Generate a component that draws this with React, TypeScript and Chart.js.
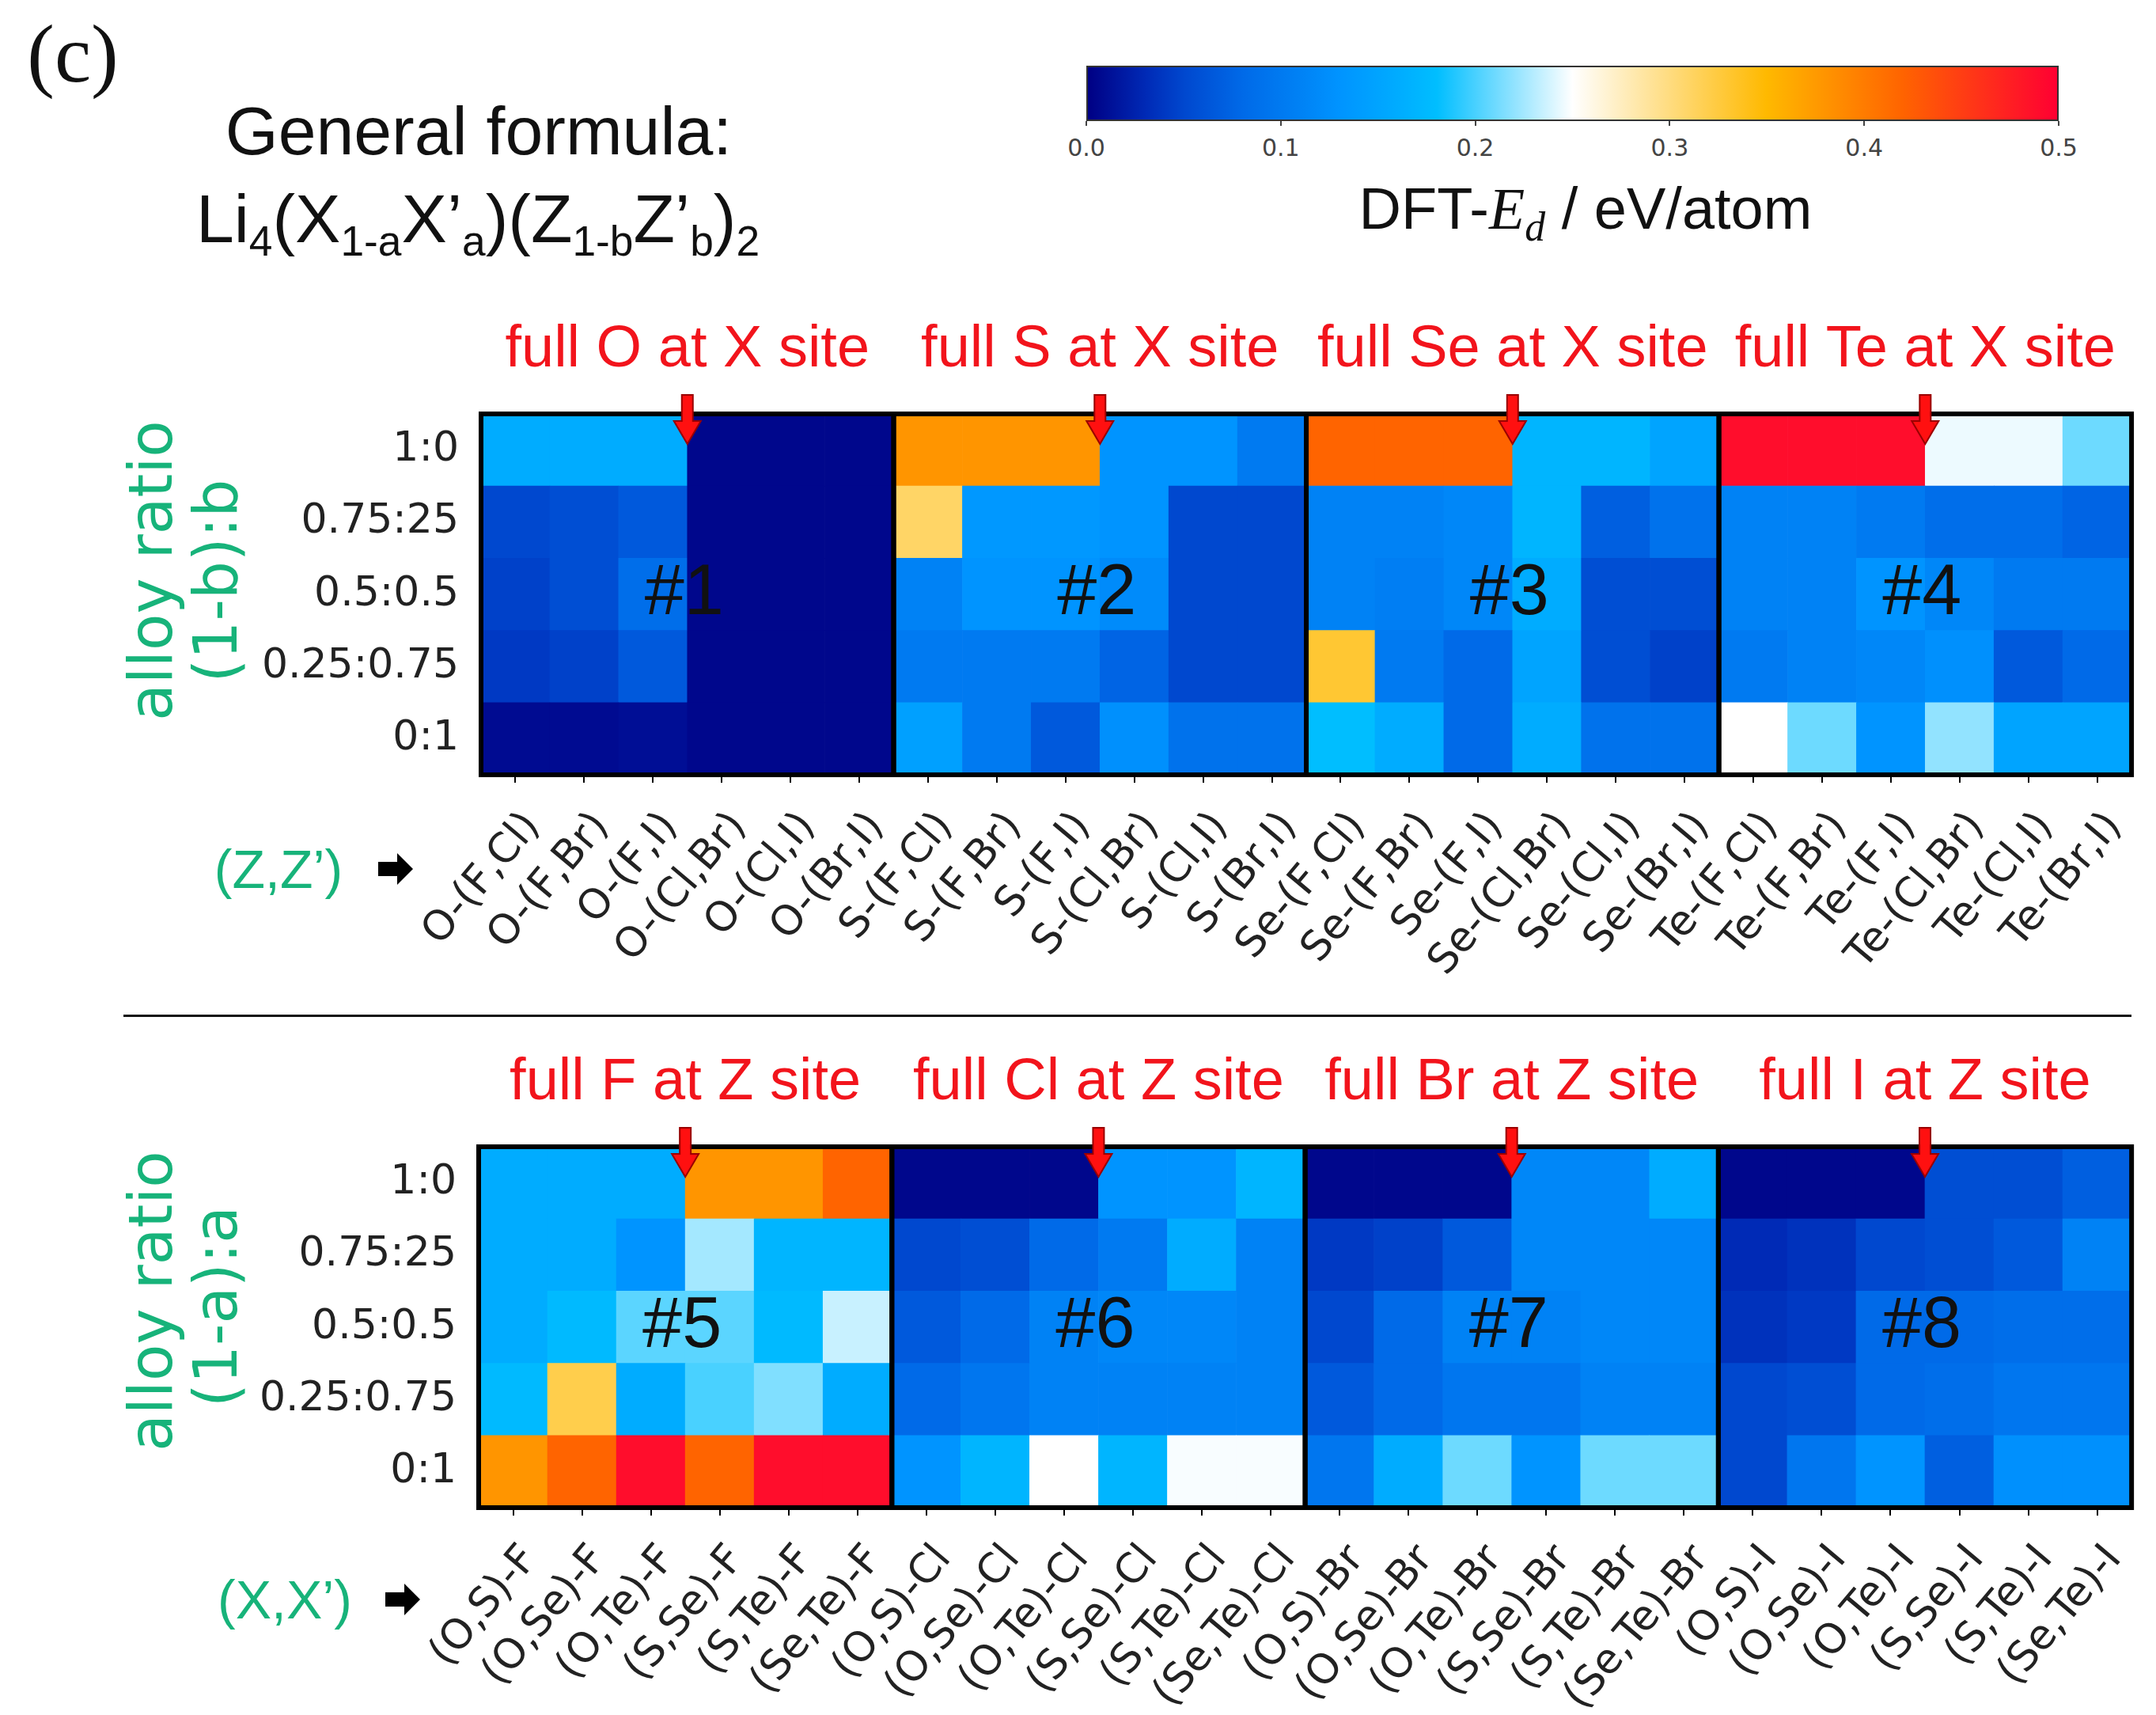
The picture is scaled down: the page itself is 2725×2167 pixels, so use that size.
import React, { useEffect, useRef } from 'react';
import { Chart, registerables } from 'chart.js';

Chart.register(...registerables);

// ---------------- data ----------------
const rowLabels = ['1:0', '0.75:25', '0.5:0.5', '0.25:0.75', '0:1'];

const topLabels = [
  'O-(F,Cl)', 'O-(F,Br)', 'O-(F,I)', 'O-(Cl,Br)', 'O-(Cl,I)', 'O-(Br,I)',
  'S-(F,Cl)', 'S-(F,Br)', 'S-(F,I)', 'S-(Cl,Br)', 'S-(Cl,I)', 'S-(Br,I)',
  'Se-(F,Cl)', 'Se-(F,Br)', 'Se-(F,I)', 'Se-(Cl,Br)', 'Se-(Cl,I)', 'Se-(Br,I)',
  'Te-(F,Cl)', 'Te-(F,Br)', 'Te-(F,I)', 'Te-(Cl,Br)', 'Te-(Cl,I)', 'Te-(Br,I)',
];

const bottomLabels = [
  '(O,S)-F', '(O,Se)-F', '(O,Te)-F', '(S,Se)-F', '(S,Te)-F', '(Se,Te)-F',
  '(O,S)-Cl', '(O,Se)-Cl', '(O,Te)-Cl', '(S,Se)-Cl', '(S,Te)-Cl', '(Se,Te)-Cl',
  '(O,S)-Br', '(O,Se)-Br', '(O,Te)-Br', '(S,Se)-Br', '(S,Te)-Br', '(Se,Te)-Br',
  '(O,S)-I', '(O,Se)-I', '(O,Te)-I', '(S,Se)-I', '(S,Te)-I', '(Se,Te)-I',
];

const topTitles = ['full O at X site', 'full S at X site', 'full Se at X site', 'full Te at X site'];
const bottomTitles = ['full F at Z site', 'full Cl at Z site', 'full Br at Z site', 'full I at Z site'];
const topTags = ['#1', '#2', '#3', '#4'];
const bottomTags = ['#5', '#6', '#7', '#8'];

// rows listed top -> bottom (1:0 ... 0:1), DFT-Ed in eV/atom
const topRow10 = [0.16, 0.16, 0.16, 0.005, 0.005, 0.005, 0.38, 0.38, 0.38, 0.13, 0.13, 0.10, 0.42, 0.42, 0.42, 0.17, 0.17, 0.15, 0.49, 0.49, 0.49, 0.245, 0.245, 0.21];
const topRow075 = [0.05, 0.055, 0.065, 0.005, 0.005, 0.005, 0.31, 0.135, 0.135, 0.13, 0.05, 0.05, 0.11, 0.11, 0.115, 0.17, 0.07, 0.09, 0.11, 0.11, 0.10, 0.085, 0.085, 0.075];
const topRow05 = [0.045, 0.055, 0.085, 0.005, 0.005, 0.005, 0.11, 0.13, 0.13, 0.12, 0.05, 0.05, 0.11, 0.105, 0.115, 0.16, 0.055, 0.055, 0.11, 0.11, 0.13, 0.115, 0.10, 0.10];
const topRow025 = [0.04, 0.045, 0.065, 0.005, 0.005, 0.005, 0.10, 0.10, 0.10, 0.075, 0.05, 0.05, 0.33, 0.10, 0.08, 0.15, 0.055, 0.045, 0.10, 0.11, 0.115, 0.125, 0.065, 0.08];
const topRow0 = [0.008, 0.008, 0.01, 0.005, 0.005, 0.005, 0.145, 0.10, 0.065, 0.125, 0.09, 0.09, 0.18, 0.16, 0.08, 0.16, 0.09, 0.09, 0.25, 0.21, 0.13, 0.22, 0.15, 0.15];

const bottomRow10 = [0.16, 0.16, 0.16, 0.38, 0.38, 0.42, 0.005, 0.005, 0.005, 0.13, 0.13, 0.17, 0.005, 0.005, 0.005, 0.115, 0.115, 0.16, 0.005, 0.005, 0.005, 0.055, 0.055, 0.07];
const bottomRow075 = [0.16, 0.16, 0.13, 0.225, 0.17, 0.17, 0.05, 0.055, 0.08, 0.10, 0.16, 0.11, 0.04, 0.045, 0.065, 0.115, 0.115, 0.115, 0.03, 0.035, 0.05, 0.055, 0.065, 0.11];
const bottomRow05 = [0.16, 0.175, 0.205, 0.205, 0.175, 0.235, 0.065, 0.08, 0.11, 0.115, 0.115, 0.11, 0.05, 0.08, 0.11, 0.11, 0.115, 0.115, 0.035, 0.04, 0.08, 0.08, 0.085, 0.085];
const bottomRow025 = [0.175, 0.32, 0.16, 0.20, 0.215, 0.16, 0.08, 0.095, 0.11, 0.11, 0.11, 0.11, 0.065, 0.08, 0.095, 0.095, 0.11, 0.11, 0.05, 0.055, 0.08, 0.085, 0.095, 0.095];
const bottomRow0 = [0.38, 0.42, 0.49, 0.42, 0.49, 0.49, 0.13, 0.17, 0.25, 0.17, 0.248, 0.248, 0.095, 0.16, 0.21, 0.13, 0.21, 0.21, 0.05, 0.095, 0.13, 0.07, 0.125, 0.125];

const topValues = [topRow10, topRow075, topRow05, topRow025, topRow0];
const bottomValues = [bottomRow10, bottomRow075, bottomRow05, bottomRow025, bottomRow0];

const colorbarTicks = [0, 0.1, 0.2, 0.3, 0.4, 0.5];

// ---------------- colour map ----------------
const VMAX = 0.5;
const cmapStops: [number, number[]][] = [
  [0.0, [0, 0, 132]],
  [0.03, [0, 42, 182]],
  [0.05, [0, 72, 207]],
  [0.08, [0, 106, 232]],
  [0.11, [0, 130, 245]],
  [0.13, [0, 148, 255]],
  [0.16, [0, 172, 255]],
  [0.18, [0, 190, 255]],
  [0.25, [255, 255, 255]],
  [0.35, [255, 185, 0]],
  [0.42, [255, 100, 0]],
  [0.5, [255, 0, 50]],
];

function cmap(v: number): string {
  const x = Math.max(0, Math.min(VMAX, v));
  for (let i = 1; i < cmapStops.length; i++) {
    const [v1, c1] = cmapStops[i];
    const [v0, c0] = cmapStops[i - 1];
    if (x <= v1) {
      const t = (x - v0) / (v1 - v0);
      const c = c0.map((a, k) => Math.round(a + (c1[k] - a) * t));
      return `rgb(${c[0]},${c[1]},${c[2]})`;
    }
  }
  const c = cmapStops[cmapStops.length - 1][1];
  return `rgb(${c[0]},${c[1]},${c[2]})`;
}

const RED = '#f2141c';
const GREEN = '#17b37a';
const PAGE_W = 2725;

// ---------------- heatmap ----------------
type HeatProps = {
  labels: string[];
  values: number[][];
  titles: string[];
  tags: string[];
  top: number;
  height: number;
  plotLeft: number;
  plotTop: number;
  plotBottom: number;
  plotRight: number;
};

function Heatmap(p: HeatProps) {
  const ref = useRef<HTMLCanvasElement>(null);
  useEffect(() => {
    const canvas = ref.current;
    if (!canvas) return;
    const datasets = [0, 1, 2, 3, 4].map((d) => {
      const row = p.values[4 - d];
      return {
        label: rowLabels[4 - d],
        data: row.map(() => 1),
        backgroundColor: row.map(cmap),
        borderWidth: 0,
        barPercentage: 1,
        categoryPercentage: 1,
      };
    });

    const decor = {
      id: 'decor',
      afterDatasetsDraw(chart: any) {
        const { ctx, chartArea: a, scales } = chart;
        const x = scales.x;
        const colW = x.getPixelForValue(1) - x.getPixelForValue(0);
        ctx.save();
        ctx.strokeStyle = '#000';
        ctx.lineWidth = 6;
        for (let b = 0; b < 4; b++) {
          const x0 = x.getPixelForValue(b * 6) - colW / 2;
          const x1 = x.getPixelForValue(b * 6 + 5) + colW / 2;
          ctx.strokeRect(x0, a.top, x1 - x0, a.bottom - a.top);
        }
        for (let b = 0; b < 4; b++) {
          const ax = x.getPixelForValue(b * 6 + 2) + colW / 2;
          const bx = (x.getPixelForValue(b * 6) + x.getPixelForValue(b * 6 + 5)) / 2;
          ctx.fillStyle = RED;
          ctx.font = '74px "Liberation Sans", Arial, sans-serif';
          ctx.textAlign = 'center';
          ctx.textBaseline = 'middle';
          ctx.fillText(p.titles[b], bx, a.top - 80);
          const t = a.top;
          ctx.beginPath();
          ctx.moveTo(ax - 7, t - 24);
          ctx.lineTo(ax + 7, t - 24);
          ctx.lineTo(ax + 7, t + 9);
          ctx.lineTo(ax + 17, t + 9);
          ctx.lineTo(ax, t + 38);
          ctx.lineTo(ax - 17, t + 9);
          ctx.lineTo(ax - 7, t + 9);
          ctx.closePath();
          ctx.fillStyle = '#ff1010';
          ctx.fill();
          ctx.strokeStyle = '#9a0000';
          ctx.lineWidth = 2;
          ctx.stroke();
          ctx.fillStyle = '#111';
          ctx.font = '90px "Liberation Sans", Arial, sans-serif';
          ctx.fillText(p.tags[b], ax - 4, (a.top + a.bottom) / 2);
        }
        ctx.restore();
      },
    };

    const chart = new Chart(canvas, {
      type: 'bar',
      data: { labels: p.labels, datasets },
      options: {
        responsive: false,
        animation: false,
        devicePixelRatio: 1,
        layout: {
          padding: { top: p.plotTop - p.top, right: PAGE_W - p.plotRight, left: 0, bottom: 0 },
        },
        plugins: {
          legend: { display: false },
          tooltip: { enabled: false },
          title: { display: false },
        },
        scales: {
          x: {
            type: 'category',
            stacked: true,
            offset: true,
            grid: {
              display: true,
              drawOnChartArea: false,
              drawTicks: true,
              tickLength: 10,
              color: '#000',
              lineWidth: 2,
              offset: false,
            },
            border: { display: false },
            ticks: {
              autoSkip: false,
              minRotation: 50,
              maxRotation: 50,
              padding: 26,
              labelOffset: 22,
              color: '#222',
              font: { family: '"DejaVu Sans"', size: 52 },
            },
            afterFit: (s: any) => {
              s.height = p.height - (p.plotBottom - p.top);
            },
          },
          y: {
            type: 'linear',
            stacked: true,
            min: 0,
            max: 5,
            grid: { display: false, drawTicks: false },
            border: { display: false },
            afterBuildTicks: (s: any) => {
              s.ticks = [0.5, 1.5, 2.5, 3.5, 4.5].map((v) => ({ value: v }));
            },
            ticks: {
              padding: 28,
              color: '#222',
              font: { family: '"DejaVu Sans"', size: 52 },
              callback: (v: any) => rowLabels[4 - Math.floor(Number(v))],
            },
            afterFit: (s: any) => {
              s.width = p.plotLeft;
            },
          },
        },
      },
      plugins: [decor],
    } as any);
    return () => chart.destroy();
  }, []);
  return (
    <canvas
      ref={ref}
      width={PAGE_W}
      height={p.height}
      style={{ position: 'absolute', left: 0, top: p.top, width: PAGE_W, height: p.height }}
    />
  );
}

// ---------------- helpers ----------------
function Txt(props: { cx: number; cy: number; rot?: number; style?: React.CSSProperties; children: React.ReactNode }) {
  return (
    <div
      style={{
        position: 'absolute',
        left: props.cx,
        top: props.cy,
        transform: `translate(-50%, -50%) rotate(${props.rot || 0}deg)`,
        whiteSpace: 'nowrap',
        lineHeight: 1,
        ...props.style,
      }}
    >
      {props.children}
    </div>
  );
}

function BlockArrow(props: { x: number; cy: number }) {
  return (
    <svg style={{ position: 'absolute', left: props.x, top: props.cy - 20 }} width={46} height={40}>
      <polygon points="0,11 24,11 24,0 44,20 24,40 24,29 0,29" fill="#000" />
    </svg>
  );
}

const sub: React.CSSProperties = { fontSize: '0.62em', verticalAlign: '-0.32em' };

export default function App() {
  const cbLeft = 1373;
  const cbRight = 2602;
  const cbTop = 83;
  const cbBottom = 153;
  const grad = cmapStops.map(([v, c]) => `rgb(${c[0]},${c[1]},${c[2]}) ${(v / VMAX) * 100}%`).join(', ');
  const sans = '"Liberation Sans", Arial, sans-serif';
  const dv = '"DejaVu Sans", sans-serif';
  return (
    <div style={{ position: 'absolute', left: 0, top: 0, width: PAGE_W, height: 2167, background: '#fff', overflow: 'hidden' }}>
      <Txt cx={92} cy={68} style={{ fontFamily: '"Liberation Serif", serif', fontSize: 104, color: '#111' }}>(c)</Txt>
      <Txt cx={605} cy={165} style={{ fontFamily: sans, fontSize: 86, color: '#111' }}>General formula:</Txt>
      <Txt cx={604} cy={282} style={{ fontFamily: sans, fontSize: 86, color: '#111' }}>
        Li<span style={sub}>4</span>(X<span style={sub}>1-a</span>X’<span style={sub}>a</span>)(Z<span style={sub}>1-b</span>Z’<span style={sub}>b</span>)<span style={sub}>2</span>
      </Txt>

      {/* colour bar */}
      <div
        style={{
          position: 'absolute',
          left: cbLeft,
          top: cbTop,
          width: cbRight - cbLeft,
          height: cbBottom - cbTop,
          background: `linear-gradient(to right, ${grad})`,
          boxSizing: 'border-box',
          border: '2px solid #333',
        }}
      />
      {colorbarTicks.map((t) => {
        const x = cbLeft + (t / VMAX) * (cbRight - cbLeft);
        return (
          <React.Fragment key={t}>
            <div style={{ position: 'absolute', left: x - 1, top: cbBottom, width: 2, height: 6, background: '#444' }} />
            <Txt cx={x} cy={187} style={{ fontFamily: dv, fontSize: 30, color: '#444' }}>{t.toFixed(1)}</Txt>
          </React.Fragment>
        );
      })}
      <Txt cx={2004} cy={270} style={{ fontFamily: sans, fontSize: 74, color: '#111' }}>
        DFT-<i style={{ fontFamily: '"Liberation Serif", serif' }}>E</i>
        <i style={{ fontFamily: '"Liberation Serif", serif', fontSize: '0.7em', verticalAlign: '-0.3em' }}>d</i> / eV/atom
      </Txt>

      {/* top panel */}
      <Txt cx={191} cy={721} rot={-90} style={{ fontFamily: dv, fontSize: 76, color: GREEN }}>alloy ratio</Txt>
      <Txt cx={273} cy={734} rot={-90} style={{ fontFamily: dv, fontSize: 76, color: GREEN }}>(1-b):b</Txt>
      <Heatmap
        labels={topLabels}
        values={topValues}
        titles={topTitles}
        tags={topTags}
        top={380}
        height={880}
        plotLeft={608}
        plotTop={523}
        plotBottom={979}
        plotRight={2697}
      />
      <Txt cx={352} cy={1098} style={{ fontFamily: sans, fontSize: 68, color: GREEN }}>(Z,Z’)</Txt>
      <BlockArrow x={478} cy={1098} />

      <div style={{ position: 'absolute', left: 156, top: 1282, width: 2538, height: 3, background: '#111' }} />

      {/* bottom panel */}
      <Txt cx={191} cy={1644} rot={-90} style={{ fontFamily: dv, fontSize: 76, color: GREEN }}>alloy ratio</Txt>
      <Txt cx={273} cy={1651} rot={-90} style={{ fontFamily: dv, fontSize: 76, color: GREEN }}>(1-a):a</Txt>
      <Heatmap
        labels={bottomLabels}
        values={bottomValues}
        titles={bottomTitles}
        tags={bottomTags}
        top={1300}
        height={867}
        plotLeft={605}
        plotTop={1449}
        plotBottom={1905}
        plotRight={2697}
      />
      <Txt cx={360} cy={2021} style={{ fontFamily: sans, fontSize: 68, color: GREEN }}>(X,X’)</Txt>
      <BlockArrow x={487} cy={2021} />
    </div>
  );
}
